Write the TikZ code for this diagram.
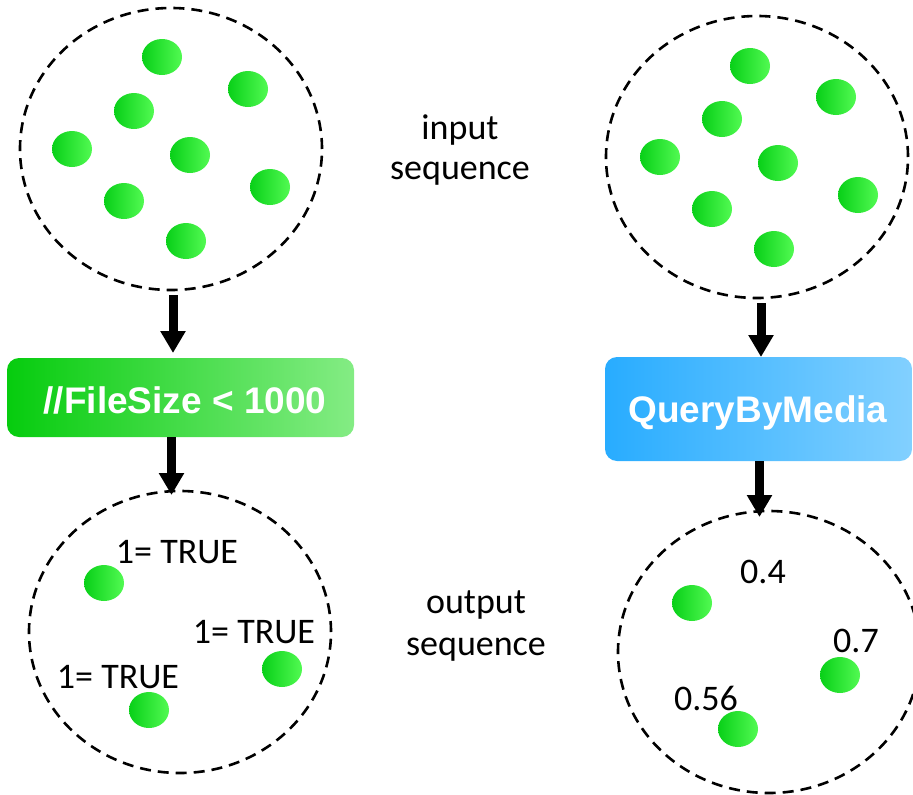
\documentclass[tikz,border=0pt]{standalone}
\usepackage{fontspec}
\setmainfont{Carlito}
\newfontfamily\boxfont{Liberation Sans}
\usetikzlibrary{shapes.geometric,arrows.meta}

\definecolor{dotdark}{RGB}{8,208,24}
\definecolor{dotlight}{RGB}{82,250,82}
\definecolor{greenA}{RGB}{6,204,14}
\definecolor{greenB}{RGB}{132,236,132}
\definecolor{blueA}{RGB}{40,172,255}
\definecolor{blueB}{RGB}{130,208,255}

\tikzset{
  pool/.style={ellipse, draw=black, line width=2.6pt, dash pattern=on 11pt off 7pt,
    inner sep=0pt, outer sep=0pt, minimum width=302pt, minimum height=282pt},
  dot/.style={ellipse, inner sep=0pt, outer sep=0pt, minimum width=40pt,
    minimum height=36pt, left color=dotdark, right color=dotlight, draw=none},
  opbox/.style={rectangle, rounded corners=12pt, inner sep=0pt, outer sep=0pt,
    draw=none, text=white, font=\boxfont\bfseries\fontsize{37}{40}\selectfont},
  lbl/.style={anchor=base, inner sep=0pt, font=\fontsize{36}{40}\selectfont},
  arr/.style={line width=9pt, -{Triangle[length=22pt,width=24pt]}}
}

\begin{document}
\begin{tikzpicture}[x=1pt,y=-1pt]
\useasboundingbox (0,0) rectangle (913,795);

% input pools
\node[pool] (inL) at (171,149) {};
\node[pool] (inR) at (757,157) {};

% items of the left input pool
\foreach \px/\py [count=\i] in {162/57, 248/89, 134/111, 72/149, 190/155, 270/187, 124/201, 186/241}
  \node[dot] (inLd\i) at (\px,\py) {};
% items of the right input pool
\foreach \px/\py [count=\i] in {750/66, 836/97, 722/119, 660/157, 778/163, 858/195, 712/209, 774/249}
  \node[dot] (inRd\i) at (\px,\py) {};

% operators
\node[opbox, left color=greenA, right color=greenB, minimum width=347pt, minimum height=79pt]
  (boxL) at (180.5,397.5) {};
\node[lbl, opbox, anchor=base] (boxLt) at (185,413) {//FileSize < 1000};
\node[opbox, left color=blueA, right color=blueB, minimum width=307pt, minimum height=104pt]
  (boxR) at (758.5,409) {};
\node[lbl, opbox, anchor=base] (boxRt) at (758,422) {QueryByMedia};

% output pools
\node[pool] (outL) at (180,632) {};
\node[pool] (outR) at (769,652) {};

% left output items and their results
\node[dot] (oL1) at (104,583) {};
\node[dot] (oL2) at (282,669) {};
\node[dot] (oL3) at (149,710) {};
\node[lbl] (tL1) at (177,563) {1= TRUE};
\node[lbl] (tL2) at (254,643) {1= TRUE};
\node[lbl] (tL3) at (118,688) {1= TRUE};

% right output items and their scores
\node[dot] (oR1) at (692,603) {};
\node[dot] (oR2) at (840,675) {};
\node[dot] (oR3) at (738,729) {};
\node[lbl] (tR1) at (763,583) {0.4};
\node[lbl] (tR2) at (856,652) {0.7};
\node[lbl] (tR3) at (706,710) {0.56};

% captions
\node[lbl] (cap1a) at (460,139) {input};
\node[lbl] (cap1b) at (460,179) {sequence};
\node[lbl] (cap2a) at (476,613) {output};
\node[lbl] (cap2b) at (476,655) {sequence};

% flow arrows
\draw[arr, shorten <=5pt, shorten >=5pt]
  ([xshift=2pt]inL.south) -- ([xshift=2pt]inL.south |- boxL.north);
\draw[arr, shorten >=-4pt]
  ([xshift=-9pt]boxL.south) -- ([xshift=-9pt]boxL.south |- outL.north);
\draw[arr, shorten <=5pt]
  ([xshift=4pt]inR.south) -- ([xshift=4pt]inR.south |- boxR.north);
\draw[arr, shorten >=-6pt]
  ([xshift=1pt]boxR.south) -- ([xshift=1pt]boxR.south |- outR.north);
\end{tikzpicture}
\end{document}
